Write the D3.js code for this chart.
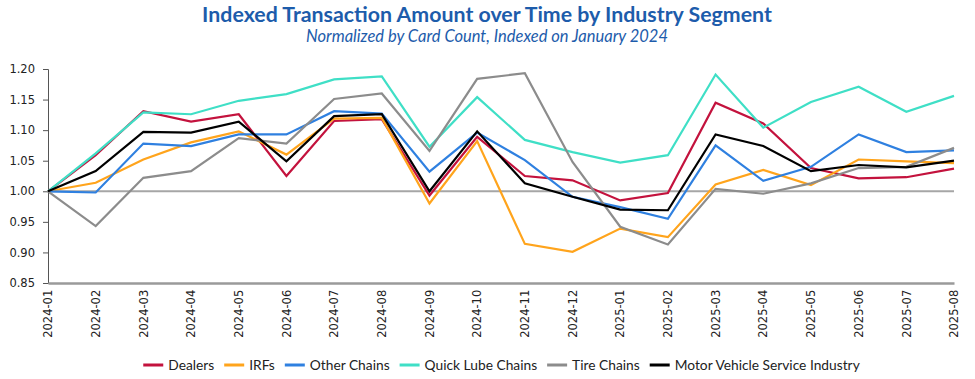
<!DOCTYPE html>
<html>
<head>
<meta charset="utf-8">
<script src="https://cdn.jsdelivr.net/npm/d3@7"></script>
<style>
  html, body { margin: 0; padding: 0; background: #fff; }
  svg { display: block; }
</style>
</head>
<body>
<svg id="chart" width="975" height="379"></svg>
<script>
const months = ["2024-01","2024-02","2024-03","2024-04","2024-05","2024-06","2024-07","2024-08","2024-09","2024-10","2024-11","2024-12","2025-01","2025-02","2025-03","2025-04","2025-05","2025-06","2025-07","2025-08"];
const dealers    = [1.000,1.059,1.131,1.114,1.126,1.025,1.115,1.118,0.993,1.089,1.025,1.018,0.985,0.997,1.145,1.111,1.038,1.021,1.023,1.037];
const irfs       = [1.000,1.014,1.052,1.080,1.098,1.060,1.119,1.120,0.980,1.082,0.914,0.901,0.939,0.925,1.011,1.035,1.010,1.052,1.049,1.046];
const otherChains= [1.000,0.998,1.078,1.074,1.093,1.093,1.131,1.127,1.032,1.096,1.051,0.991,0.974,0.955,1.075,1.017,1.040,1.093,1.064,1.067];
const quickLube  = [1.000,1.062,1.129,1.126,1.148,1.159,1.183,1.188,1.073,1.154,1.084,1.064,1.047,1.059,1.191,1.104,1.146,1.171,1.130,1.156];
const tireChains = [1.000,0.943,1.022,1.033,1.087,1.078,1.151,1.160,1.066,1.184,1.193,1.048,0.942,0.913,1.004,0.996,1.013,1.038,1.040,1.071];
const mvsi       = [1.000,1.033,1.097,1.096,1.114,1.049,1.123,1.126,1.000,1.098,1.013,0.991,0.970,0.969,1.093,1.074,1.033,1.043,1.039,1.050];
const yTicks = [0.85,0.90,0.95,1.00,1.05,1.10,1.15,1.20];
const seriesNames = ["Dealers","IRFs","Other Chains","Quick Lube Chains","Tire Chains","Motor Vehicle Service Industry"];
const seriesValues = [dealers, irfs, otherChains, quickLube, tireChains, mvsi];
const seriesColors = ["#C3123D","#FFA41C","#2F80E0","#3FDFC6","#8C8C8C","#000000"];

const svg = d3.select("#chart");
const W = 975, H = 379;
const margin = {top: 69, right: 21, bottom: 96, left: 48};

const x = d3.scalePoint().domain(months).range([margin.left, W - margin.right]);
const y = d3.scaleLinear().domain([0.85, 1.20]).range([H - margin.bottom, margin.top]);

// Title
const titleFont = "Lato, 'Open Sans', sans-serif";
function fit(sel, target) {
  const w = sel.node().getComputedTextLength();
  const fs = parseFloat(sel.attr("font-size"));
  sel.attr("font-size", (fs * target / w).toFixed(2));
}
const title = svg.append("text")
  .attr("x", 487).attr("y", 22)
  .attr("text-anchor", "middle")
  .attr("font-family", titleFont).attr("font-weight", "bold")
  .attr("font-size", 20).attr("fill", "#1D5CAB")
  .text("Indexed Transaction Amount over Time by Industry Segment");
fit(title, 570);
const sub = svg.append("text")
  .attr("x", 487).attr("y", 42)
  .attr("text-anchor", "middle")
  .attr("font-family", titleFont).attr("font-style", "italic")
  .attr("font-size", 15).attr("fill", "#1D5CAB")
  .text("Normalized by Card Count, Indexed on January 2024");
fit(sub, 362);

// Y axis
const yAxis = svg.append("g")
  .attr("transform", `translate(${margin.left},0)`)
  .call(d3.axisLeft(y).tickValues(yTicks).tickFormat(d3.format(".2f")).tickSize(5).tickPadding(8));
yAxis.select(".domain").attr("stroke", "#555").attr("stroke-width", 1);
yAxis.selectAll(".tick line").attr("stroke", "#555");
yAxis.selectAll("text").attr("font-family", "'DejaVu Sans', Verdana, sans-serif").attr("font-size", 11.5).attr("fill", "#222");

// X axis
const xAxis = svg.append("g")
  .attr("transform", `translate(0,${H - margin.bottom})`)
  .call(d3.axisBottom(x).tickSize(0).tickPadding(6));
xAxis.select(".domain").attr("stroke", "#9a9a9a").attr("stroke-width", 2.5);
xAxis.selectAll("text")
  .attr("font-family", "'DejaVu Sans', Verdana, sans-serif").attr("font-size", 11.5).attr("fill", "#222")
  .attr("transform", "rotate(-90)")
  .attr("text-anchor", "end")
  .attr("dx", "-0.5em").attr("dy", "0.32em").attr("y", 0).attr("x", -1);

// Reference line at 1.00
svg.append("line")
  .attr("x1", x(months[0])).attr("x2", x(months[months.length - 1]))
  .attr("y1", y(1)).attr("y2", y(1))
  .attr("stroke", "#a6a6a6").attr("stroke-width", 2);

// Lines
const line = d3.line().x((d, i) => x(months[i])).y(d => y(d));
seriesValues.forEach((vals, k) => {
  svg.append("path")
    .datum(vals)
    .attr("fill", "none")
    .attr("stroke", seriesColors[k])
    .attr("stroke-width", 2.2)
    .attr("stroke-linejoin", "miter")
    .attr("d", line);
});

// Legend
const legend = svg.append("g");
const legendFont = "Lato, 'Open Sans', sans-serif";
const items = [];
seriesNames.forEach((name, k) => {
  const g = legend.append("g");
  g.append("line").attr("x1", 0).attr("x2", 20).attr("y1", 0).attr("y2", 0)
    .attr("stroke", seriesColors[k]).attr("stroke-width", 3);
  const t = g.append("text").attr("x", 25).attr("y", 0).attr("dy", "0.35em")
    .attr("font-family", legendFont).attr("font-size", 14).attr("fill", "#222").text(name);
  items.push({g, t});
});
const targetSpan = 860 - 143;
function layout(fs) {
  let pos = 0;
  items.forEach((it, i) => {
    it.t.attr("font-size", fs);
    it.x = pos;
    pos += 25 + it.t.node().getComputedTextLength() + (i < items.length - 1 ? 10 : 0);
  });
  return pos;
}
let fs = 14;
let total = layout(fs);
const fixed = 25 * items.length + 10 * (items.length - 1);
fs = fs * (targetSpan - fixed) / (total - fixed);
total = layout(fs);
const startX = 501.5 - total / 2;
items.forEach(it => it.g.attr("transform", `translate(${startX + it.x},365)`));
</script>
</body>
</html>
